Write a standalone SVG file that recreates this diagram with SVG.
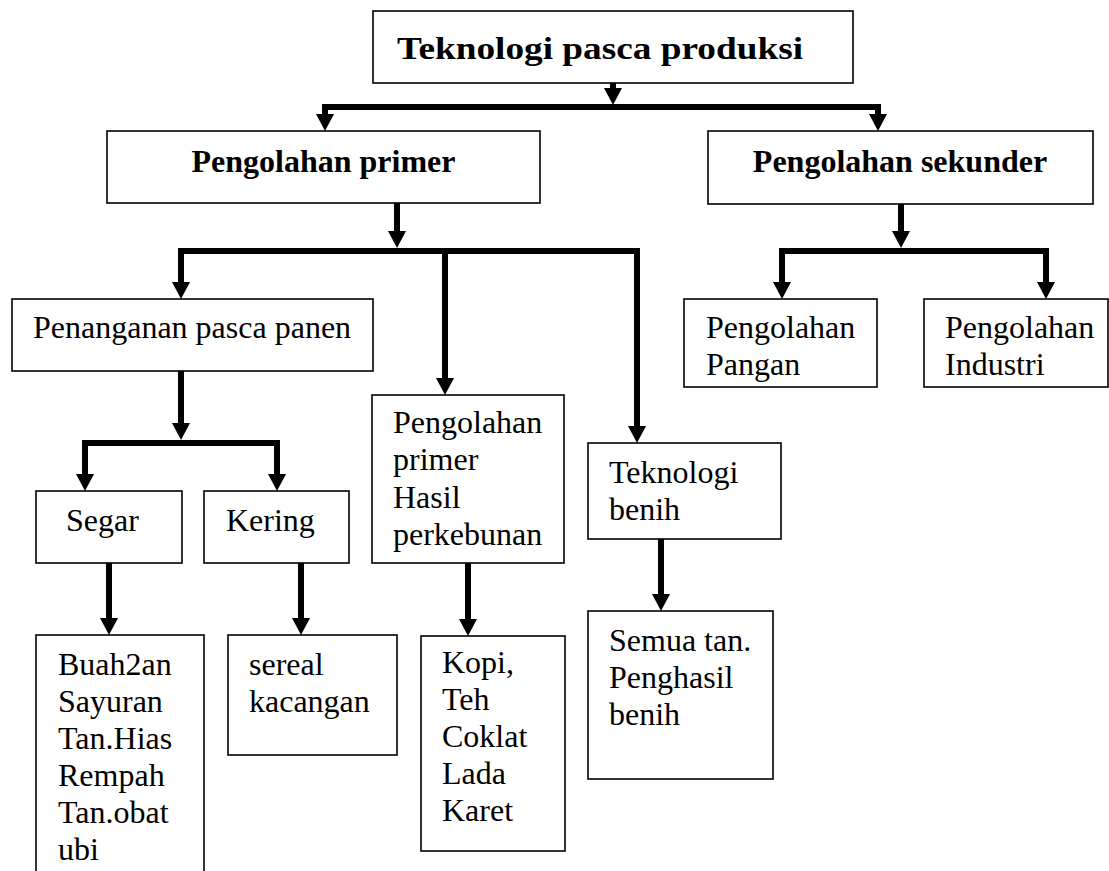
<svg xmlns="http://www.w3.org/2000/svg" width="1109" height="871" viewBox="0 0 1109 871">
<style>
.box{fill:#fff;stroke:#000;stroke-width:1.6}
.t{font-family:"Liberation Serif","Times New Roman",serif;font-size:32px;fill:#000}
.b{font-weight:bold}
.c{fill:none;stroke:#000;stroke-width:6;stroke-linejoin:miter}
</style>
<defs>
<marker id="ah" viewBox="0 -9 17 18" refX="0" refY="0" markerWidth="17" markerHeight="18" markerUnits="userSpaceOnUse" orient="auto">
<path d="M0,-9 L17,0 L0,9 z" fill="#000"/>
</marker>
</defs>
<rect width="1109" height="871" fill="#fff"/>
<g id="connectors">
<path class="c" d="M613,83 L613,88" marker-end="url(#ah)"/>
<path class="c" d="M613,107 L325,107 L325,114" marker-end="url(#ah)"/>
<path class="c" d="M613,107 L878,107 L878,114" marker-end="url(#ah)"/>
<path class="c" d="M397,203 L397,231" marker-end="url(#ah)"/>
<path class="c" d="M397,251 L181,251 L181,282" marker-end="url(#ah)"/>
<path class="c" d="M397,251 L445,251 L445,378" marker-end="url(#ah)"/>
<path class="c" d="M445,251 L637,251 L637,426" marker-end="url(#ah)"/>
<path class="c" d="M901,204 L901,231" marker-end="url(#ah)"/>
<path class="c" d="M901,251 L782,251 L782,282" marker-end="url(#ah)"/>
<path class="c" d="M901,251 L1046,251 L1046,282" marker-end="url(#ah)"/>
<path class="c" d="M181,371 L181,423" marker-end="url(#ah)"/>
<path class="c" d="M181,443 L85,443 L85,474" marker-end="url(#ah)"/>
<path class="c" d="M181,443 L277,443 L277,474" marker-end="url(#ah)"/>
<path class="c" d="M109,563 L109,618" marker-end="url(#ah)"/>
<path class="c" d="M301,563 L301,618" marker-end="url(#ah)"/>
<path class="c" d="M468,563 L468,619" marker-end="url(#ah)"/>
<path class="c" d="M661,539 L661,594" marker-end="url(#ah)"/>
</g>
<g id="n-title"><rect class="box" x="373" y="11" width="480" height="72"/><text class="t b" x="397" y="59" font-size="40" textLength="406" lengthAdjust="spacingAndGlyphs">Teknologi pasca produksi</text></g>
<g id="n-primer"><rect class="box" x="107" y="131" width="433" height="72"/><text class="t b" x="323.5" y="172" text-anchor="middle">Pengolahan primer</text></g>
<g id="n-sekunder"><rect class="box" x="708" y="131" width="385" height="73"/><text class="t b" x="900" y="172" text-anchor="middle">Pengolahan sekunder</text></g>
<g id="n-penanganan"><rect class="box" x="12" y="299" width="361" height="72"/><text class="t" x="33" y="338">Penanganan pasca panen</text></g>
<g id="n-hasil"><rect class="box" x="372" y="395" width="192" height="168"/><text class="t" x="393" y="433">Pengolahan</text><text class="t" x="393" y="470">primer</text><text class="t" x="393" y="508">Hasil</text><text class="t" x="393" y="545">perkebunan</text></g>
<g id="n-benih"><rect class="box" x="588" y="443" width="193" height="96"/><text class="t" x="609" y="483">Teknologi</text><text class="t" x="609" y="520">benih</text></g>
<g id="n-pangan"><rect class="box" x="684" y="299" width="193" height="88"/><text class="t" x="706" y="338">Pengolahan</text><text class="t" x="706" y="375">Pangan</text></g>
<g id="n-industri"><rect class="box" x="924" y="299" width="184" height="88"/><text class="t" x="945" y="338">Pengolahan</text><text class="t" x="945" y="375">Industri</text></g>
<g id="n-segar"><rect class="box" x="36" y="491" width="146" height="72"/><text class="t" x="66" y="531">Segar</text></g>
<g id="n-kering"><rect class="box" x="204" y="491" width="145" height="72"/><text class="t" x="226" y="531">Kering</text></g>
<g id="n-buah"><rect class="box" x="36" y="635" width="168" height="250"/><text class="t" x="58" y="675">Buah2an</text><text class="t" x="58" y="712">Sayuran</text><text class="t" x="58" y="749">Tan.Hias</text><text class="t" x="58" y="786">Rempah</text><text class="t" x="58" y="823">Tan.obat</text><text class="t" x="58" y="860">ubi</text></g>
<g id="n-sereal"><rect class="box" x="228" y="635" width="169" height="120"/><text class="t" x="249" y="675">sereal</text><text class="t" x="249" y="712">kacangan</text></g>
<g id="n-kopi"><rect class="box" x="421" y="636" width="144" height="215"/><text class="t" x="442" y="673">Kopi,</text><text class="t" x="442" y="710">Teh</text><text class="t" x="442" y="747">Coklat</text><text class="t" x="442" y="784">Lada</text><text class="t" x="442" y="821">Karet</text></g>
<g id="n-semua"><rect class="box" x="588" y="611" width="185" height="168"/><text class="t" x="609" y="651">Semua tan.</text><text class="t" x="609" y="688">Penghasil</text><text class="t" x="609" y="725">benih</text></g>
</svg>
